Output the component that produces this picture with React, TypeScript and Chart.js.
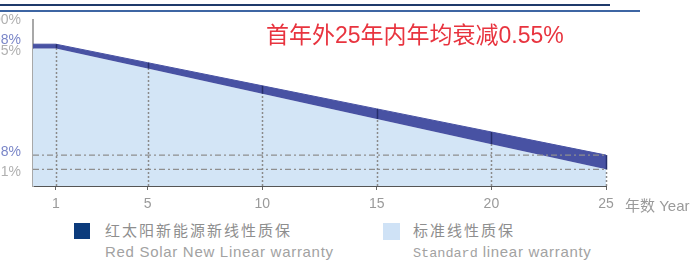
import React, { useEffect, useRef } from 'react';
import { Chart, registerables } from 'chart.js';

Chart.register(...registerables);

// ---- data ----
const years = [0, 1, 5, 10, 15, 20, 25];
const redSolar = [98, 98, 95.8, 93.05, 90.3, 87.55, 84.8];
const standard = [97.5, 97.5, 95.1, 92.1, 89.1, 86.1, 83.1];
const xTickValues = [1, 5, 10, 15, 20, 25];
const yTickValues = [100, 98, 97.5, 84.8, 83.1];
const yTickLabels = ['100%', '98%', '97.5%', '84.8%', '83.1%'];
const refLevels = [84.8, 83.1];
const titleText = '首年外25年内年均衰减0.55%';
const seriesNames = ['红太阳新能源新线性质保', '标准线性质保'];
const seriesNamesEn = ['Red Solar New Linear warranty', 'linear warranty'];
const seriesNamesEnPrefix = ['', 'Standard'];
const xAxisName = '年数 Year';

// ---- styles ----
const FONT = '"Liberation Sans", "Noto Sans CJK SC", sans-serif';
const BAND = '#4852a3';
const LIGHT = '#d3e5f6';
const yTickBlue = [false, true, false, true, false];
const yTickShift = [-7, -4, 3, -3, 3];

const markerPlugin = {
  id: 'markers',
  afterDatasetsDraw(chart: any) {
    const { ctx, chartArea, scales } = chart;
    const x = scales.x;
    const y = scales.y;
    ctx.save();
    xTickValues.forEach((t) => {
      const i = years.indexOf(t);
      const px = Math.round(x.getPixelForValue(t)) + 0.5;
      const ps = y.getPixelForValue(standard[i]);
      const pr = y.getPixelForValue(redSolar[i]);
      ctx.strokeStyle = '#8a8a8a';
      ctx.lineWidth = 1.5;
      ctx.setLineDash([2, 2]);
      ctx.beginPath();
      ctx.moveTo(px, chartArea.bottom);
      ctx.lineTo(px, ps);
      ctx.stroke();
      ctx.setLineDash([]);
      ctx.strokeStyle = '#262f6c';
      ctx.beginPath();
      ctx.moveTo(px, ps);
      ctx.lineTo(px, pr);
      ctx.stroke();
    });
    ctx.restore();
  },
};

export default function App() {
  const ref = useRef<HTMLCanvasElement | null>(null);

  useEffect(() => {
    if (!ref.current) return;
    const refSets = refLevels.map((v) => ({
      type: 'line' as const,
      data: [
        { x: years[0], y: v },
        { x: years[years.length - 1], y: v },
      ],
      borderColor: '#8f8f8f',
      borderWidth: 1.3,
      borderDash: [6, 3, 2, 3],
      pointRadius: 0,
      fill: false,
    }));
    const chart = new Chart(ref.current, {
      type: 'line',
      data: {
        datasets: [
          ...refSets,
          {
            label: seriesNames[0],
            data: years.map((x, i) => ({ x, y: redSolar[i] })),
            borderColor: BAND,
            borderWidth: 1,
            backgroundColor: BAND,
            fill: '+1',
            pointRadius: 0,
            tension: 0,
          },
          {
            label: seriesNames[1],
            data: years.map((x, i) => ({ x, y: standard[i] })),
            borderColor: LIGHT,
            borderWidth: 0,
            backgroundColor: LIGHT,
            fill: 'start',
            pointRadius: 0,
            tension: 0,
          },
        ] as any,
      },
      options: {
        animation: false,
        responsive: false,
        devicePixelRatio: 1,
        layout: { padding: { top: 20, right: 94, bottom: 0, left: 0 } },
        plugins: {
          legend: { display: false },
          tooltip: { enabled: false },
        },
        scales: {
          x: {
            type: 'linear',
            min: 0,
            max: 25,
            afterBuildTicks: (s: any) => {
              s.ticks = xTickValues.map((v) => ({ value: v }));
            },
            afterFit: (s: any) => {
              s.height = 29;
            },
            grid: {
              display: true,
              drawOnChartArea: false,
              drawTicks: true,
              tickLength: 4,
              color: '#666',
            },
            border: { display: true, color: '#555', width: 1 },
            ticks: {
              autoSkip: false,
              maxRotation: 0,
              padding: 6,
              color: '#9a9a9a',
              font: { family: FONT, size: 14 },
              callback: (v: any) => String(v),
            },
          },
          y: {
            type: 'linear',
            min: 81.12,
            max: 100.88,
            afterBuildTicks: (s: any) => {
              s.ticks = yTickValues.map((v) => ({ value: v }));
            },
            afterFit: (s: any) => {
              s.width = 73;
            },
            grid: { display: false, drawTicks: false },
            border: { display: true, color: '#a8a8a8', width: 2 },
            ticks: {
              autoSkip: false,
              padding: 12,
              color: (c: any) => {
                const i = yTickValues.indexOf(c.tick ? c.tick.value : NaN);
                return yTickBlue[i] ? '#7a86c8' : '#b0b0b0';
              },
              font: (c: any) => {
                const i = yTickValues.indexOf(c.tick ? c.tick.value : NaN);
                const s = i >= 0 ? yTickShift[i] : 0;
                return {
                  family: FONT,
                  size: 14,
                  lineHeight: Math.max(Math.abs(s) * 2, 1) + 'px',
                };
              },
              callback: (v: any) => {
                const i = yTickValues.indexOf(v);
                if (i < 0) return '';
                const s = yTickShift[i];
                return s < 0 ? [yTickLabels[i], ''] : ['', yTickLabels[i]];
              },
            },
          },
        },
      } as any,
      plugins: [markerPlugin],
    });
    return () => chart.destroy();
  }, []);

  const cn: React.CSSProperties = {
    position: 'absolute',
    fontFamily: FONT,
    fontSize: 15,
    lineHeight: '20px',
    color: '#8e8e8e',
    letterSpacing: '2px',
    whiteSpace: 'nowrap',
  };
  const en: React.CSSProperties = {
    position: 'absolute',
    fontFamily: FONT,
    fontSize: 15,
    lineHeight: '20px',
    color: '#a2a2a2',
    letterSpacing: '0.7px',
    whiteSpace: 'nowrap',
  };

  return (
    <div
      style={{
        position: 'fixed',
        left: 0,
        top: 0,
        width: 697,
        height: 262,
        overflow: 'hidden',
        background: '#fff',
      }}
    >
      <div style={{ position: 'absolute', left: 0, top: 4, width: 610, height: 2, background: '#1f3a6b' }} />
      <div style={{ position: 'absolute', left: 0, top: 10, width: 640, height: 2, background: '#3d65a3' }} />
      <canvas
        ref={ref}
        width={740}
        height={215}
        style={{ position: 'absolute', left: -40, top: 0, width: 740, height: 215 }}
      />
      <div
        style={{
          position: 'absolute',
          left: 266,
          top: 22,
          fontFamily: FONT,
          fontSize: 23,
          lineHeight: '27px',
          color: '#e8343f',
          whiteSpace: 'nowrap',
        }}
      >
        {titleText}
      </div>
      <div style={{ ...en, letterSpacing: '0px', left: 625, top: 196, color: '#9a9a9a' }}>{xAxisName}</div>

      <div style={{ position: 'absolute', left: 74, top: 223, width: 16, height: 16, background: '#0b3b7c' }} />
      <div style={{ ...cn, left: 105, top: 221 }}>{seriesNames[0]}</div>
      <div style={{ ...en, left: 105, top: 242 }}>{seriesNamesEn[0]}</div>

      <div style={{ position: 'absolute', left: 383, top: 223, width: 17, height: 17, background: '#cfe2f6' }} />
      <div style={{ ...cn, left: 413, top: 221 }}>{seriesNames[1]}</div>
      <div style={{ ...en, left: 413, top: 242 }}>
        <span
          style={{
            fontFamily: '"Liberation Mono", "DejaVu Sans Mono", monospace',
            fontSize: 13.5,
            letterSpacing: '0px',
          }}
        >
          {seriesNamesEnPrefix[1]}
        </span>{' '}
        {seriesNamesEn[1]}
      </div>
    </div>
  );
}
